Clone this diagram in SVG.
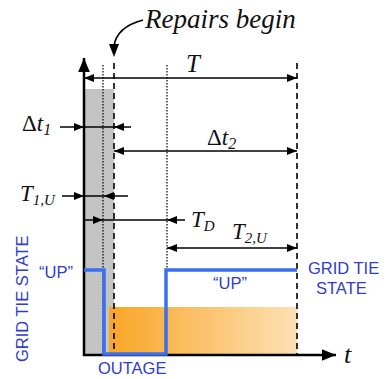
<svg xmlns="http://www.w3.org/2000/svg" width="390" height="379" viewBox="0 0 390 379">
<style>
.ax{stroke:#000;stroke-width:2.5;fill:none}
.ar{stroke:#000;stroke-width:1.5;fill:none}
.dash{stroke:#000;stroke-width:1.6;stroke-dasharray:6 4;fill:none}
.dot{stroke:#000;stroke-width:1.2;stroke-dasharray:1.5 1.5;fill:none}
.m{font-family:"Liberation Serif",serif;font-style:italic;fill:#111}
.up{font-style:normal}
.b{font-family:"Liberation Sans",Arial,sans-serif;fill:#2f3ccc;font-size:16.5px}
</style>
<defs>
<marker id="ah" viewBox="0 0 10 8" refX="10" refY="4" markerWidth="10" markerHeight="8" markerUnits="userSpaceOnUse" orient="auto-start-reverse"><path d="M0,0L10,4L0,8z" fill="#000"/></marker>
<marker id="axh" viewBox="0 0 12 10" refX="12" refY="5" markerWidth="14" markerHeight="12" markerUnits="userSpaceOnUse" orient="auto"><path d="M0,0L12,5L0,10z" fill="#000"/></marker>
<linearGradient id="og" x1="0" x2="1" y1="0" y2="0"><stop offset="0" stop-color="#f9a526"/><stop offset="1" stop-color="#fde0b4"/></linearGradient>
</defs>
<g id="bands">
<rect x="84" y="89" width="30" height="266" fill="#c4c4c4"/>
<rect x="109" y="307" width="188" height="48" fill="url(#og)"/>
</g>
<g id="guides">
<line class="dot" x1="103" y1="65" x2="103" y2="355"/>
<line class="dash" x1="114" y1="63" x2="114" y2="355"/>
<line class="dot" x1="167" y1="65" x2="167" y2="270"/>
<line class="dash" x1="297" y1="63" x2="297" y2="355"/>
</g>
<g id="axes">
<line class="ax" x1="84" y1="356" x2="84" y2="58" marker-end="url(#axh)"/>
<line class="ax" x1="83" y1="355" x2="336" y2="355" marker-end="url(#axh)"/>
</g>
<g id="connectors">
<line class="ar" x1="84" y1="78" x2="297" y2="78" marker-start="url(#ah)" marker-end="url(#ah)"/>
<line class="ar" x1="60" y1="127" x2="84" y2="127" marker-end="url(#ah)"/>
<line class="ar" x1="84" y1="127" x2="114" y2="127"/>
<line class="ar" x1="131" y1="127" x2="114" y2="127" marker-end="url(#ah)"/>
<line class="ar" x1="114" y1="151" x2="297" y2="151" marker-start="url(#ah)" marker-end="url(#ah)"/>
<line class="ar" x1="62" y1="196" x2="84" y2="196" marker-end="url(#ah)"/>
<line class="ar" x1="84" y1="196" x2="104" y2="196"/>
<line class="ar" x1="128" y1="196" x2="104" y2="196" marker-end="url(#ah)"/>
<line class="ar" x1="84" y1="220" x2="103" y2="220" marker-end="url(#ah)"/>
<line class="ar" x1="103" y1="220" x2="167" y2="220"/>
<line class="ar" x1="185" y1="220" x2="167" y2="220" marker-end="url(#ah)"/>
<line class="ar" x1="167" y1="248" x2="297" y2="248" marker-start="url(#ah)" marker-end="url(#ah)"/>
<path d="M143,20 C128,24 116,32 114,46" stroke="#000" stroke-width="1.8" fill="none"/>
<path d="M109,44 L119,44 L114,57 z" fill="#000"/>
</g>
<g id="state">
<path d="M84,270 H104 V354 H166 V270 H297" stroke="#3a6ff0" stroke-width="3.5" fill="none"/>
</g>
<g id="labels">
<text class="m" x="145" y="28" font-size="27">Repairs begin</text>
<text class="m" x="186" y="72" font-size="25">T</text>
<text class="m" x="22" y="131" font-size="23"><tspan class="up">Δ</tspan>t<tspan font-size="16" dy="4">1</tspan></text>
<text class="m" x="207" y="145" font-size="23"><tspan class="up">Δ</tspan>t<tspan font-size="16" dy="4">2</tspan></text>
<text class="m" x="20" y="201" font-size="23">T<tspan font-size="15" dy="4">1,U</tspan></text>
<text class="m" x="191" y="227" font-size="23">T<tspan font-size="15" dy="4">D</tspan></text>
<text class="m" x="232" y="239" font-size="23">T<tspan font-size="15" dy="4">2,U</tspan></text>
<text class="m" x="344" y="363" font-size="26">t</text>
<text class="b" transform="translate(28,362) rotate(-90)">GRID TIE STATE</text>
<text class="b" x="39" y="278">“UP”</text>
<text class="b" x="98" y="374">OUTAGE</text>
<text class="b" x="213" y="289">“UP”</text>
<text class="b" x="308" y="274">GRID TIE</text>
<text class="b" x="316" y="294">STATE</text>
</g>
</svg>
